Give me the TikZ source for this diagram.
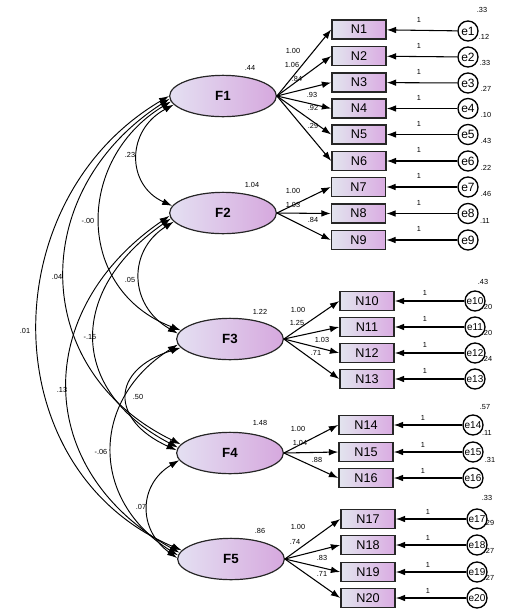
\documentclass[tikz,border=0pt]{standalone}
\usepackage{fontspec}
\setmainfont{Liberation Sans}
\usetikzlibrary{arrows.meta,shapes.geometric}
\definecolor{facL}{RGB}{228,224,242}
\definecolor{facR}{RGB}{214,168,222}
\definecolor{boxL}{RGB}{226,228,238}
\definecolor{boxR}{RGB}{218,172,226}
\begin{document}
\begin{tikzpicture}[x=0.75pt,y=-0.75pt,
  fac/.style={ellipse, draw=black!85, line width=0.9pt, left color=facL, right color=facR, minimum width=80pt, minimum height=31pt, inner sep=0pt, font=\fontsize{10}{12}\selectfont\bfseries},
  obs/.style={rectangle, draw=black!85, line width=1.2pt, left color=boxL, right color=boxR, minimum width=40.5pt, minimum height=14.5pt, inner sep=0pt, font=\fontsize{9.5}{11}\selectfont},
  err/.style={circle, draw=black, line width=1pt, fill=white, minimum size=15pt, inner sep=0pt, font=\fontsize{9}{10}\selectfont},
  errs/.style={err, font=\fontsize{7.5}{8}\selectfont},
  lab/.style={font=\fontsize{5.5}{6}\selectfont, inner sep=0pt},
  ld/.style={-{Latex[length=7pt,width=5pt]}, line width=0.8pt},
  cov/.style={{Latex[length=7.5pt,width=5pt]}-{Latex[length=7.5pt,width=5pt]}, line width=0.7pt},
]
\useasboundingbox (0,0) rectangle (516,612);
% factors
\node[fac] (F1) at (223,96) {F1};
\node[fac] (F2) at (223,213) {F2};
\node[fac] (F3) at (230,339) {F3};
\node[fac] (F4) at (230,453) {F4};
\node[fac] (F5) at (231,559) {F5};
% observed
\node[obs] (N1) at (359,29.5) {N1};
\node[obs] (N2) at (359,56) {N2};
\node[obs] (N3) at (359,82.5) {N3};
\node[obs] (N4) at (359,108.5) {N4};
\node[obs] (N5) at (359,134.5) {N5};
\node[obs] (N6) at (359,161) {N6};
\node[obs] (N7) at (358.5,187) {N7};
\node[obs] (N8) at (358.5,213.5) {N8};
\node[obs] (N9) at (358.5,240) {N9};
\node[obs] (N10) at (367,301) {N10};
\node[obs] (N11) at (367,327) {N11};
\node[obs] (N12) at (367,353) {N12};
\node[obs] (N13) at (367,379) {N13};
\node[obs] (N14) at (366,425) {N14};
\node[obs] (N15) at (366,452) {N15};
\node[obs] (N16) at (366,478) {N16};
\node[obs] (N17) at (368,519) {N17};
\node[obs] (N18) at (368,545) {N18};
\node[obs] (N19) at (368,572) {N19};
\node[obs] (N20) at (368,598) {N20};
% errors
\node[err] (e1) at (468,31) {e1};
\node[err] (e2) at (468,57) {e2};
\node[err] (e3) at (468,83) {e3};
\node[err] (e4) at (468,108.5) {e4};
\node[err] (e5) at (468,134.5) {e5};
\node[err] (e6) at (468,161) {e6};
\node[err] (e7) at (468,187) {e7};
\node[err] (e8) at (468,213.5) {e8};
\node[err] (e9) at (468,240) {e9};
\node[errs] (e10) at (475,301) {e10};
\node[errs] (e11) at (475,327) {e11};
\node[errs] (e12) at (475,353) {e12};
\node[errs] (e13) at (475,379) {e13};
\node[errs] (e14) at (473,425) {e14};
\node[errs] (e15) at (473,452) {e15};
\node[errs] (e16) at (473,478) {e16};
\node[errs] (e17) at (477,519) {e17};
\node[errs] (e18) at (477,545) {e18};
\node[errs] (e19) at (477,572) {e19};
\node[errs] (e20) at (477,598) {e20};
% error arrows
\foreach \i in {1,...,20}{\draw[ld] (e\i) -- (N\i);}
\foreach \i/\y in {1/20,2/46,3/72,4/97.5,5/123.5,6/150,7/176,8/202.5,9/229}{\node[lab] (u\i) at (419,\y) {1};}
\foreach \i/\y in {10/293,11/319,12/345,13/371}{\node[lab] (u\i) at (425,\y) {1};}
\foreach \i/\y in {14/418,15/445,16/471}{\node[lab] (u\i) at (423,\y) {1};}
\foreach \i/\y in {17/512,18/538,19/565,20/591}{\node[lab] (u\i) at (428,\y) {1};}
% error variances
\node[lab] (v1) at (482,10) {.33};
\node[lab] (v2) at (484,37) {.12};
\node[lab] (v3) at (485,63) {.33};
\node[lab] (v4) at (486,89) {.27};
\node[lab] (v5) at (486,115) {.10};
\node[lab] (v6) at (486,141) {.43};
\node[lab] (v7) at (486,168) {.22};
\node[lab] (v8) at (486,194) {.46};
\node[lab] (v9) at (485,221) {.11};
\node[lab] (v10) at (483,282) {.43};
\node[lab] (v11) at (487,307) {.20};
\node[lab] (v12) at (487,333) {.20};
\node[lab] (v13) at (487,359) {.24};
\node[lab] (v14) at (485,407) {.57};
\node[lab] (v15) at (487,433) {.11};
\node[lab] (v16) at (490,460) {.31};
\node[lab] (v17) at (487,498) {.33};
\node[lab] (v18) at (489,523) {.29};
\node[lab] (v19) at (489,551) {.27};
\node[lab] (v20) at (489,578) {.27};
% loadings
\foreach \n in {1,...,6}{\draw[ld] (F1.east) -- (N\n.west);}
\foreach \n in {7,8,9}{\draw[ld] (F2.east) -- (N\n.west);}
\foreach \n in {10,...,13}{\draw[ld] (F3.east) -- (N\n.west);}
\foreach \n in {14,15,16}{\draw[ld] (F4.east) -- (N\n.west);}
\foreach \n in {17,...,20}{\draw[ld] (F5.east) -- (N\n.west);}
\node[lab] (l1) at (293,51) {1.00};
\node[lab] (l2) at (292,65) {1.06};
\node[lab] (l3) at (297,79) {.84};
\node[lab] (l4) at (312,95) {.93};
\node[lab] (l5) at (313,108) {.92};
\node[lab] (l6) at (313,126) {.29};
\node[lab] (l7) at (293,191) {1.00};
\node[lab] (l8) at (293,205) {1.03};
\node[lab] (l9) at (313,220) {.84};
\node[lab] (l10) at (298,310) {1.00};
\node[lab] (l11) at (297,323) {1.25};
\node[lab] (l12) at (322,340) {1.03};
\node[lab] (l13) at (316,353) {.71};
\node[lab] (l14) at (298,429) {1.00};
\node[lab] (l15) at (300,443) {1.04};
\node[lab] (l16) at (317,460) {.88};
\node[lab] (l17) at (298,527) {1.00};
\node[lab] (l18) at (295,542) {.74};
\node[lab] (l19) at (322,558) {.83};
\node[lab] (l20) at (322,574) {.71};
% factor variances
\node[lab] (fv1) at (250,68) {.44};
\node[lab] (fv2) at (252,185) {1.04};
\node[lab] (fv3) at (260,312) {1.22};
\node[lab] (fv4) at (260,423) {1.48};
\node[lab] (fv5) at (260,531) {.86};
% covariances
\draw[cov] (F1.190) .. controls (126,130) and (126,185) .. (F2.172);
\draw[cov] (F1.186) .. controls (75,160) and (75,290) .. (F3.170);
\draw[cov] (F1.183) .. controls (28,190) and (28,370) .. (F4.170);
\draw[cov] (F1.180) .. controls (-8,200) and (-8,470) .. (F5.170);
\draw[cov] (F2.190) .. controls (128,250) and (128,305) .. (F3.174);
\draw[cov] (F2.186) .. controls (68,290) and (68,390) .. (F4.174);
\draw[cov] (F2.183) .. controls (32,310) and (32,470) .. (F5.173);
\draw[cov] (F3.190) .. controls (110,370) and (110,420) .. (F4.177);
\draw[cov] (F3.186) .. controls (90,400) and (90,500) .. (F5.176);
\draw[cov] (F4.188) .. controls (138,485) and (138,530) .. (F5.179);
\node[lab] (c12) at (130,155) {.23};
\node[lab] (c13) at (88,221) {-.00};
\node[lab] (c14) at (57,277) {.04};
\node[lab] (c15) at (25,331) {.01};
\node[lab] (c23) at (130,280) {.05};
\node[lab] (c24) at (90,337) {-.15};
\node[lab] (c25) at (62,390) {.13};
\node[lab] (c34) at (138,397) {.50};
\node[lab] (c35) at (101,452) {-.06};
\node[lab] (c45) at (141,507) {.07};
\end{tikzpicture}
\end{document}
